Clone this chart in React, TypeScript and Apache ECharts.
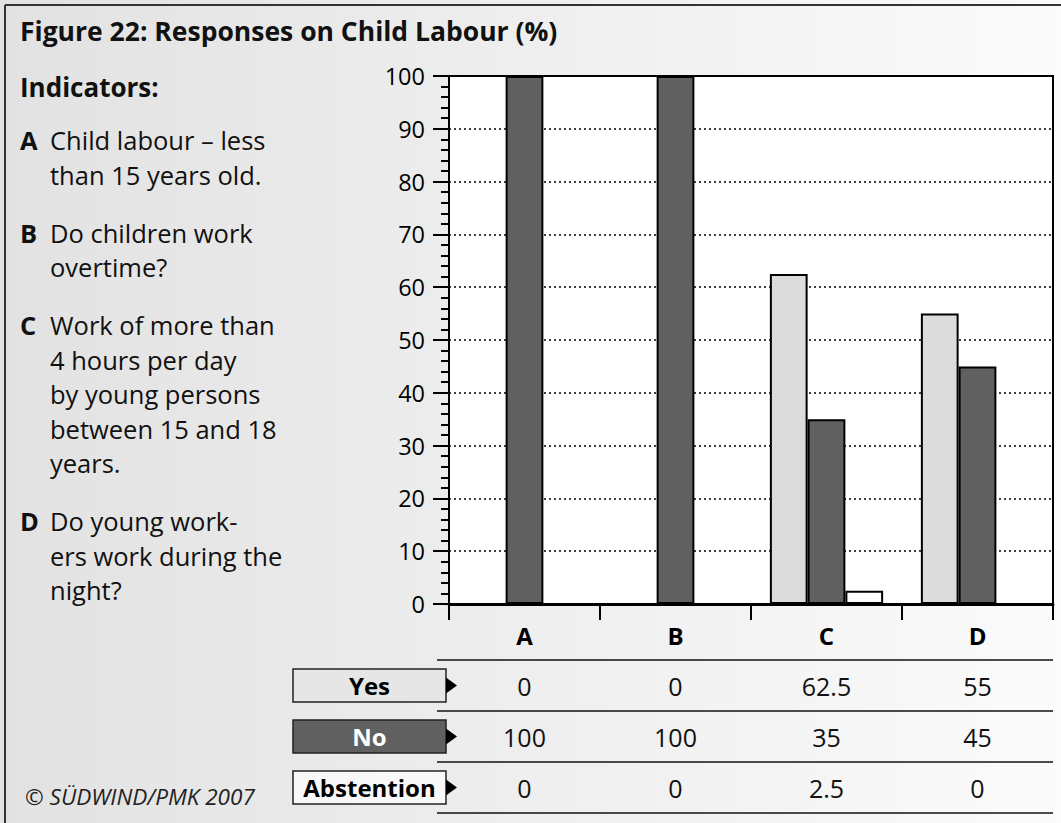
import React, { useEffect, useRef } from 'react';
import * as echarts from 'echarts';

// ---- data ----
const categories = ['A', 'B', 'C', 'D'];
const seriesNames = ['Yes', 'No', 'Abstention'];
const yesValues = [0, 0, 62.5, 55];
const noValues = [100, 100, 35, 45];
const abstentionValues = [0, 0, 2.5, 0];
const yMin = 0;
const yMax = 100;
const yInterval = 10;

const titleText = 'Figure 22: Responses on Child Labour (%)';
const indicatorsHeading = 'Indicators:';
const indicatorKeys = ['A', 'B', 'C', 'D'];
const indicatorLines = [
  ['Child labour – less', 'than 15 years old.'],
  ['Do children work', 'overtime?'],
  ['Work of more than', '4 hours per day', 'by young persons', 'between 15 and 18', 'years.'],
  ['Do young work-', 'ers work during the', 'night?'],
];
const copyrightText = '© SÜDWIND/PMK 2007';

// ---- styles ----
const FONT = '"Open Sans", "Noto Sans", sans-serif';
const barColors = ['#dcdcdc', '#606060', '#ffffff'];
const legendFills = ['#e6e6e6', '#606060', '#f8f8f8'];
const legendTextColors = ['#000000', '#ffffff', '#000000'];

const GRID = { left: 449, top: 76, width: 604, height: 528 };

export default function App() {
  const ref = useRef<HTMLDivElement>(null);

  useEffect(() => {
    if (!ref.current) return;
    const chart = echarts.init(ref.current, null, { renderer: 'svg' });
    const seriesData = [yesValues, noValues, abstentionValues];

    chart.setOption({
      animation: false,
      backgroundColor: new echarts.graphic.LinearGradient(0, 0, 1, 0, [
        { offset: 0, color: '#e2e2e2' },
        { offset: 1, color: '#fbfbfb' },
      ]),
      grid: {
        left: GRID.left,
        top: GRID.top,
        width: GRID.width,
        height: GRID.height,
        show: true,
        backgroundColor: '#ffffff',
        borderColor: '#000000',
        borderWidth: 2,
      },
      xAxis: {
        type: 'category',
        data: categories,
        axisLine: { lineStyle: { color: '#000', width: 3 } },
        axisTick: { show: true, length: 16, lineStyle: { color: '#000', width: 2 } },
        axisLabel: { margin: 19, color: '#000', fontSize: 24, fontWeight: 'bold', fontFamily: FONT },
        splitLine: { show: false },
      },
      yAxis: {
        type: 'value',
        min: yMin,
        max: yMax,
        interval: yInterval,
        axisLine: { show: true, lineStyle: { color: '#000', width: 2 } },
        axisTick: { show: true, length: 16, lineStyle: { color: '#000', width: 2 } },
        minorTick: { show: true, splitNumber: 5, length: 8, lineStyle: { color: '#000', width: 2 } },
        axisLabel: { margin: 24, color: '#000', fontSize: 23.5, fontFamily: FONT },
        splitLine: { show: true, lineStyle: { color: '#000', width: 1.5, type: [2, 3] } },
      },
      series: seriesNames.map((name, i) => ({
        name,
        type: 'bar',
        data: seriesData[i],
        barGap: '0%',
        barCategoryGap: '25%',
        itemStyle: { color: barColors[i], borderColor: '#000', borderWidth: 2 },
      })),
    });

    const centers = categories.map((c, i) => chart.convertToPixel({ xAxisIndex: 0 }, i) as number);

    const g: any[] = [];
    // frame lines
    g.push({ type: 'line', shape: { x1: 5, y1: 5, x2: 1061, y2: 5 }, style: { stroke: '#333', lineWidth: 2 } });
    g.push({ type: 'line', shape: { x1: 5, y1: 5, x2: 5, y2: 823 }, style: { stroke: '#333', lineWidth: 2 } });
    // title
    g.push({ type: 'text', x: 20, y: 31, style: { text: titleText, fill: '#111', fontSize: 26.5, fontWeight: 'bold', fontFamily: FONT, textVerticalAlign: 'middle' } });
    g.push({ type: 'text', x: 20, y: 87, style: { text: indicatorsHeading, fill: '#111', fontSize: 26, fontWeight: 'bold', fontFamily: FONT, textVerticalAlign: 'middle' } });
    // indicator paragraphs
    let y = 140;
    const lineH = 34.5;
    const gap = 23.5;
    indicatorLines.forEach((lines, k) => {
      g.push({ type: 'text', x: 20, y, style: { text: indicatorKeys[k], fill: '#111', fontSize: 25.5, fontWeight: 'bold', fontFamily: FONT, textVerticalAlign: 'middle' } });
      lines.forEach((ln, j) => {
        g.push({ type: 'text', x: 50, y: y + j * lineH, style: { text: ln, fill: '#111', fontSize: 25.5, fontFamily: FONT, textVerticalAlign: 'middle' } });
      });
      y += lines.length * lineH + gap;
    });
    // copyright
    g.push({ type: 'text', x: 25, y: 796, style: { text: copyrightText, fill: '#222', fontSize: 22.5, fontStyle: 'italic', fontFamily: FONT, textVerticalAlign: 'middle' } });

    // data table
    const rowTop = 660;
    const rowH = 51;
    const lineX1 = 437;
    const lineX2 = GRID.left + GRID.width;
    for (let r = 0; r <= seriesNames.length; r++) {
      g.push({ type: 'line', shape: { x1: lineX1, y1: rowTop + r * rowH, x2: lineX2, y2: rowTop + r * rowH }, style: { stroke: '#111', lineWidth: 1.5 } });
    }
    seriesNames.forEach((name, r) => {
      const cy = rowTop + r * rowH + rowH / 2;
      g.push({ type: 'rect', shape: { x: 293, y: cy - 16.5, width: 153, height: 33 }, style: { fill: legendFills[r], stroke: '#222', lineWidth: 1.5 } });
      g.push({ type: 'text', x: 369.5, y: cy, style: { text: name, fill: legendTextColors[r], fontSize: 24, fontWeight: 'bold', fontFamily: FONT, textAlign: 'center', textVerticalAlign: 'middle' } });
      g.push({ type: 'polygon', shape: { points: [[446, cy - 8], [457, cy], [446, cy + 8]] }, style: { fill: '#000' } });
      seriesData[r].forEach((v, i) => {
        g.push({ type: 'text', x: centers[i], y: cy, style: { text: String(v), fill: '#111', fontSize: 25, fontFamily: FONT, textAlign: 'center', textVerticalAlign: 'middle' } });
      });
    });

    chart.setOption({ graphic: g });

    return () => chart.dispose();
  }, []);

  return (
    <div
      ref={ref}
      style={{ position: 'fixed', left: 0, top: 0, width: 1061, height: 823 }}
    />
  );
}
